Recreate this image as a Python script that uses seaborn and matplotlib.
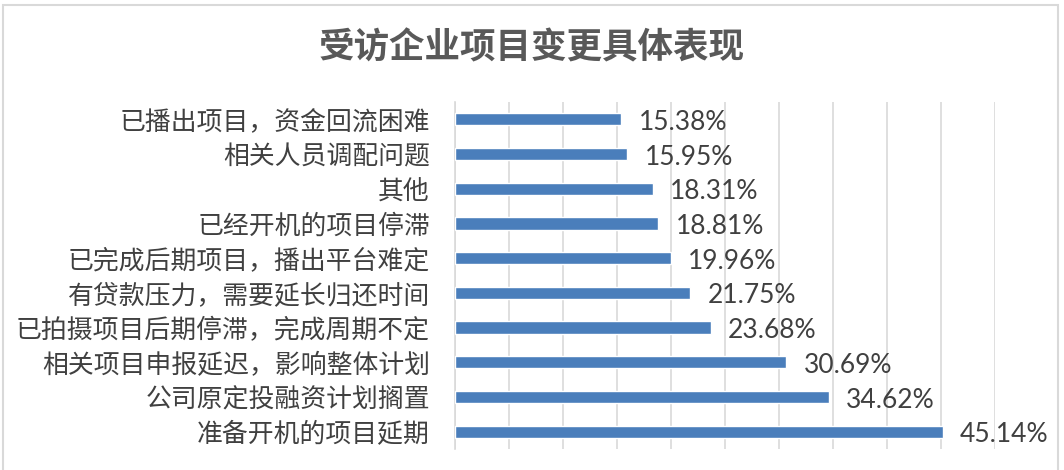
import matplotlib
matplotlib.use("Agg")
import matplotlib.pyplot as plt
import seaborn as sns
import pandas as pd
from matplotlib.patches import Rectangle

categories = [
    "已播出项目，资金回流困难",
    "相关人员调配问题",
    "其他",
    "已经开机的项目停滞",
    "已完成后期项目，播出平台难定",
    "有贷款压力，需要延长归还时间",
    "已拍摄项目后期停滞，完成周期不定",
    "相关项目申报延迟，影响整体计划",
    "公司原定投融资计划搁置",
    "准备开机的项目延期",
]
values = [15.38, 15.95, 18.31, 18.81, 19.96, 21.75, 23.68, 30.69, 34.62, 45.14]
title = "受访企业项目变更具体表现"
x_ticks = [0, 5, 10, 15, 20, 25, 30, 35, 40, 45, 50]

sns.set_theme(style="white")
plt.rcParams['font.family'] = ['Noto Sans CJK SC', 'DejaVu Sans']

df = pd.DataFrame({"category": categories, "value": values})

W, H = 1064, 470
fig = plt.figure(figsize=(W / 100, H / 100), dpi=100)
ax = fig.add_axes([455 / W, 1 - 449 / H, (995 - 455) / W, (449 - 102) / H])

sns.barplot(data=df, x="value", y="category", order=categories, orient="h",
            color="#4A7EBB", width=0.35, saturation=1, ax=ax, zorder=3)

ax.set_xlim(0, 50)
ax.set_ylim(9.5, -0.5)
ax.set_xticks(x_ticks)
ax.set_xticklabels([])
ax.tick_params(axis="x", length=0)
ax.tick_params(axis="y", length=0, pad=18)
ax.grid(axis="x", color="#d9d9d9", linewidth=1.2, zorder=0)
ax.grid(axis="y", visible=False)
ax.set_xlabel("")
ax.set_ylabel("")
for s in ["top", "right", "bottom"]:
    ax.spines[s].set_visible(False)
ax.spines["left"].set_color("#d9d9d9")
ax.spines["left"].set_linewidth(1.2)

for lbl in ax.get_yticklabels():
    lbl.set_fontsize(18.6)
    lbl.set_color("#404040")
    lbl.set_fontfamily(['Noto Sans CJK SC', 'DejaVu Sans'])

for i, v in enumerate(values):
    ax.annotate(f"{v:.2f}%", xy=(v, i), xytext=(12.5, -2.2), textcoords="offset points",
                ha="left", va="center", fontsize=19, color="#404040",
                family=["Lato", "DejaVu Sans"])

fig.text(0.4995, 1 - 48 / H, title, ha="center", va="center", fontsize=25.6,
         color="#595959", fontweight="bold",
         family=['Noto Sans CJK SC', 'DejaVu Sans'])

fig.patches.append(Rectangle((3 / W, -0.05), (1058 - 3) / W, 1.05 - 5 / H,
                             transform=fig.transFigure, fill=False,
                             edgecolor="#d9d9d9", linewidth=1.5))

fig.savefig("out.png", dpi=100)
